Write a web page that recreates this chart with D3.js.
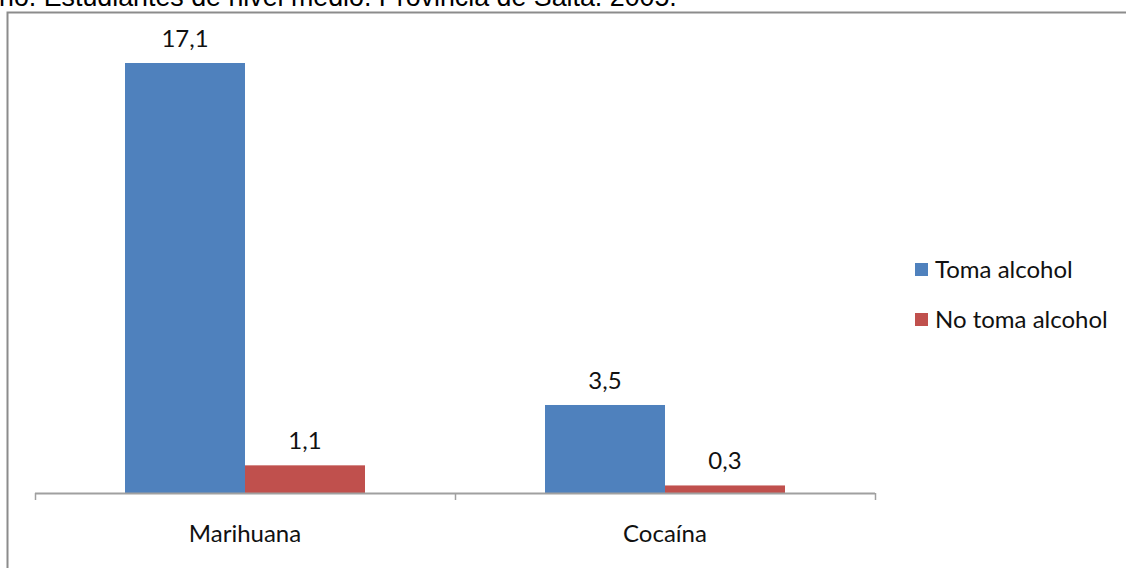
<!DOCTYPE html>
<html><head><meta charset="utf-8">
<script src="https://cdn.jsdelivr.net/npm/d3@7"></script>
<style>body{margin:0;background:#fff;overflow:hidden}svg{display:block}</style>
</head><body>
<script>
const categories = ["Marihuana", "Cocaína"];
const seriesNames = ["Toma alcohol", "No toma alcohol"];
const tomaAlcohol = [17.1, 3.5];
const noTomaAlcohol = [1.1, 0.3];
const colors = ["#4F81BD", "#C0504D"];
const titleText = "no. Estudiantes de nivel medio. Provincia de Salta. 2005.";

const W = 1126, H = 568;
const svg = d3.select("body").append("svg").attr("width", W).attr("height", H);
const font = "Lato, 'Open Sans', sans-serif";

svg.append("text").attr("x", -1).attr("y", 6).attr("font-family", "Arial, 'Liberation Sans', sans-serif")
  .attr("font-size", 26.8).attr("fill", "#000").text(titleText);

// frame
svg.append("rect").attr("x", 7.5).attr("y", 12.5).attr("width", 1125).attr("height", 570)
  .attr("fill", "none").attr("stroke", "#8c8c8c").attr("stroke-width", 2);

const baseY = 493;
const x0 = d3.scaleBand().domain(categories).range([35, 875]).paddingInner(0).paddingOuter(0);
const x1 = d3.scaleBand().domain(seriesNames).range([0, x0.bandwidth()]).paddingInner(0).paddingOuter(0.75);
const y = d3.scaleLinear().domain([0, 18]).range([baseY, baseY - 18 * 25.146]);

const data = categories.map((c, i) => ({cat: c, vals: [tomaAlcohol[i], noTomaAlcohol[i]]}));

const g = svg.append("g");
data.forEach(d => {
  d.vals.forEach((v, j) => {
    const s = seriesNames[j];
    g.append("rect").attr("x", x0(d.cat) + x1(s)).attr("y", y(v))
      .attr("width", x1.bandwidth()).attr("height", y(0) - y(v)).attr("fill", colors[j]);
    g.append("text").attr("x", x0(d.cat) + x1(s) + x1.bandwidth() / 2).attr("y", y(v) - 16)
      .attr("text-anchor", "middle").attr("font-family", font).attr("font-size", 24).attr("fill", "#111")
      .text(d3.format(".1f")(v).replace(".", ","));
  });
});

// axis
const axis = svg.append("g").attr("transform", `translate(0,${baseY})`);
axis.append("line").attr("x1", 35).attr("x2", 875).attr("y1", 0.5).attr("y2", 0.5).attr("stroke", "#a0a0a0").attr("stroke-width", 2);
const tickXs = categories.map(c => x0(c)).concat([x0.range()[1]]);
tickXs.forEach(tx => axis.append("line").attr("x1", tx + 0.5).attr("x2", tx + 0.5).attr("y1", 0).attr("y2", 7).attr("stroke", "#a0a0a0").attr("stroke-width", 1.5));
categories.forEach(c => axis.append("text").attr("x", x0(c) + x0.bandwidth() / 2).attr("y", 49)
  .attr("text-anchor", "middle").attr("font-family", font).attr("font-size", 24).attr("fill", "#111").text(c));

// legend
const leg = svg.append("g");
seriesNames.forEach((s, i) => {
  const ly = 263 + i * 50;
  leg.append("rect").attr("x", 915).attr("y", ly).attr("width", 13).attr("height", 13).attr("fill", colors[i]);
  leg.append("text").attr("x", 935).attr("y", ly + 15).attr("font-family", font).attr("font-size", 24).attr("fill", "#111").text(s);
});
</script>
</body></html>
